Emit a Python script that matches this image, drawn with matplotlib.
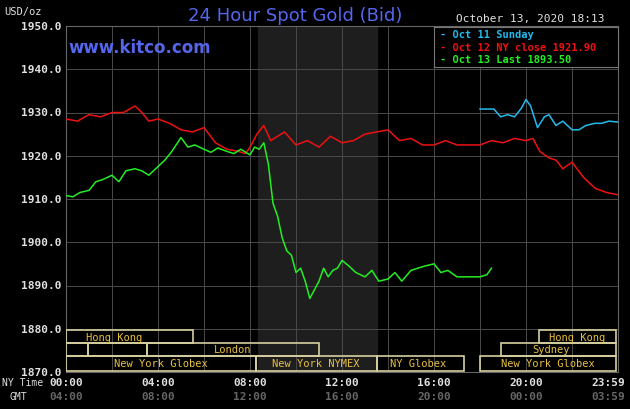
import matplotlib
matplotlib.use("Agg")
import matplotlib.pyplot as plt
from matplotlib.patches import Rectangle

# hours (NY time) and prices
green_x = [0,0.3,0.6,1,1.3,1.6,2,2.3,2.6,3,3.3,3.6,4,4.3,4.6,5,5.3,5.6,6,6.3,6.6,7,7.3,7.6,8,8.2,8.4,8.6,8.8,9,9.2,9.4,9.6,9.8,10,10.2,10.4,10.6,10.8,11,11.2,11.4,11.6,11.8,12,12.3,12.6,13,13.3,13.6,14,14.3,14.6,15,15.3,15.6,16,16.3,16.6,17,17.3,17.6,18,18.3,18.5]
green_y = [1910.8,1910.5,1911.5,1912,1914,1914.5,1915.5,1914,1916.5,1917,1916.5,1915.5,1917.5,1919,1921,1924.2,1922,1922.5,1921.5,1920.8,1921.8,1921,1920.5,1921.5,1920.2,1922,1921.5,1923,1918,1909,1906,1901,1898,1897,1893,1894,1891,1887,1889,1891,1894,1892,1893.5,1894,1895.8,1894.5,1893,1892,1893.5,1891,1891.5,1893,1891,1893.5,1894,1894.5,1895,1893,1893.5,1892,1892,1892,1892,1892.5,1894]
red_x = [0,0.5,1,1.5,2,2.5,3,3.3,3.6,4,4.5,5,5.5,6,6.5,7,7.5,7.8,8,8.3,8.6,8.9,9.2,9.5,10,10.5,11,11.5,12,12.5,13,13.5,14,14.5,15,15.5,16,16.5,17,17.5,18,18.5,19,19.5,20,20.3,20.6,21,21.3,21.6,22,22.5,23,23.5,23.99]
red_y = [1928.5,1928,1929.5,1929,1930,1930,1931.5,1930,1928,1928.5,1927.5,1926,1925.5,1926.5,1923,1921.5,1921,1920.5,1922,1925,1927,1923.5,1924.5,1925.5,1922.5,1923.5,1922,1924.5,1923,1923.5,1925,1925.5,1926,1923.5,1924,1922.5,1922.5,1923.5,1922.5,1922.5,1922.5,1923.5,1923,1924,1923.5,1924,1921,1919.5,1919,1917,1918.5,1915,1912.5,1911.5,1911]
blue_x = [18,18.3,18.6,18.9,19.2,19.5,19.8,20,20.2,20.5,20.8,21,21.3,21.6,22,22.3,22.6,23,23.3,23.6,23.99]
blue_y = [1930.8,1930.8,1930.8,1929,1929.5,1929,1931,1933,1931.5,1926.5,1929,1929.5,1927,1928,1926,1926,1927,1927.5,1927.5,1928,1927.8]
yticks = [1870,1880,1890,1900,1910,1920,1930,1940,1950]
ny_labels = ["00:00","04:00","08:00","12:00","16:00","20:00","23:59"]
gmt_labels = ["04:00","08:00","12:00","16:00","20:00","00:00","03:59"]

mono = "DejaVu Sans Mono"
W, H = 630, 410
fig = plt.figure(figsize=(6.3, 4.1), dpi=100, facecolor="black")
x0, x1, y0, y1 = 66, 618, 27, 373
ax = fig.add_axes([x0/W, 1-y1/H, (x1-x0)/W, (y1-y0)/H], facecolor="black")
ax.set_xlim(0, 24); ax.set_ylim(1870, 1950)
for s in ax.spines.values(): s.set_color("#666666")
ax.set_xticks(range(0, 25, 2)); ax.set_yticks(yticks)
ax.grid(True, color="#4a4a4a", lw=0.7)
ax.tick_params(length=0, labelbottom=False, labelleft=False)
ax.axvspan(8.33, 13.5, color="#1e1e1e", zorder=0)

ax.plot(red_x, red_y, color="#ee1111", lw=1.1, zorder=3)
ax.plot(blue_x, blue_y, color="#22bbee", lw=1.1, zorder=3)
ax.plot(green_x, green_y, color="#22ee22", lw=1.1, zorder=4)

# session bars
gold = "#e8c040"; edge = "#d8d0a0"
rows = {0: (1876.8, 1879.6), 1: (1873.8, 1876.8), 2: (1870.3, 1873.8)}
sessions = [
    (0, 0, 5.5, "Hong Kong", 2.1), (0, 20.55, 23.9, "Hong Kong", None),
    (1, 0, 0.95, "", None), (1, 0.95, 3.5, "", None), (1, 3.5, 11.0, "London", None),
    (1, 18.9, 23.9, "Sydney", 21.1),
    (2, 0, 8.25, "New York Globex", None), (2, 8.25, 13.5, "New York NYMEX", None),
    (2, 13.5, 17.3, "NY Globex", 15.3), (2, 18.0, 23.9, "New York Globex", None),
]
for r, a, b, lab, cx in sessions:
    lo, hi = rows[r]
    ax.add_patch(Rectangle((a, lo), b-a, hi-lo, fill=False, ec=edge, lw=1.2, zorder=5))
    if lab:
        ax.text(cx if cx is not None else (a+b)/2, (lo+hi)/2, lab, color=gold, family=mono,
                fontsize=7.5, ha="center", va="center", zorder=6)

# y labels
for v in yticks:
    fig.text(62/W, 1-(y0+(1950-v)/80*(y1-y0))/H, f"{v:.1f}", color="#e0e0e0", family=mono,
             fontsize=8, ha="right", va="center", weight="bold")
fig.text(4/W, 1-12/H, "USD/oz", color="#e0e0e0", family=mono, fontsize=7.5, va="center")
for i, (a, g) in enumerate(zip(ny_labels, gmt_labels)):
    h = 23.983 if i == 6 else i*4
    px = x0 + h/24*(x1-x0)
    ha = "right" if i == 6 else "center"
    if i == 6: px += 8
    fig.text(px/W, 1-383/H, a, color="#e0e0e0", family=mono, fontsize=8, ha=ha, va="center", weight="bold")
    fig.text(px/W, 1-397/H, g, color="#666666", family=mono, fontsize=8, ha=ha, va="center", weight="bold")
fig.text(2/W, 1-383/H, "NY Time", color="#e0e0e0", family=mono, fontsize=7, va="center")
fig.text(10/W, 1-397/H, "GMT", color="#e0e0e0", family=mono, fontsize=7, va="center")

fig.text(295/W, 1-16/H, "24 Hour Spot Gold (Bid)", color="#5566ee", fontsize=13,
         ha="center", va="center")
fig.text(605/W, 1-19/H, "October 13, 2020 18:13", color="#e0e0e0", family=mono, fontsize=8, ha="right", va="center")
fig.text(68/W, 1-48/H, "www.kitco.com", color="#5566ee", fontsize=12, va="center", weight="bold")

# legend box
lg = fig.add_axes([434/W, 1-68/H, (618-434)/W, 40/H], facecolor="black")
lg.set_xticks([]); lg.set_yticks([])
for s in lg.spines.values(): s.set_color("#777777")
for i, (t, c) in enumerate([("- Oct 11 Sunday", "#22bbee"), ("- Oct 12 NY close 1921.90", "#ee1111"),
                            ("- Oct 13 Last 1893.50", "#22ee22")]):
    lg.text(0.03, 0.83-0.32*i, t, color=c, family=mono, fontsize=7.5, weight="bold",
            va="center", transform=lg.transAxes)

fig.savefig("out.png", dpi=100, facecolor="black")
